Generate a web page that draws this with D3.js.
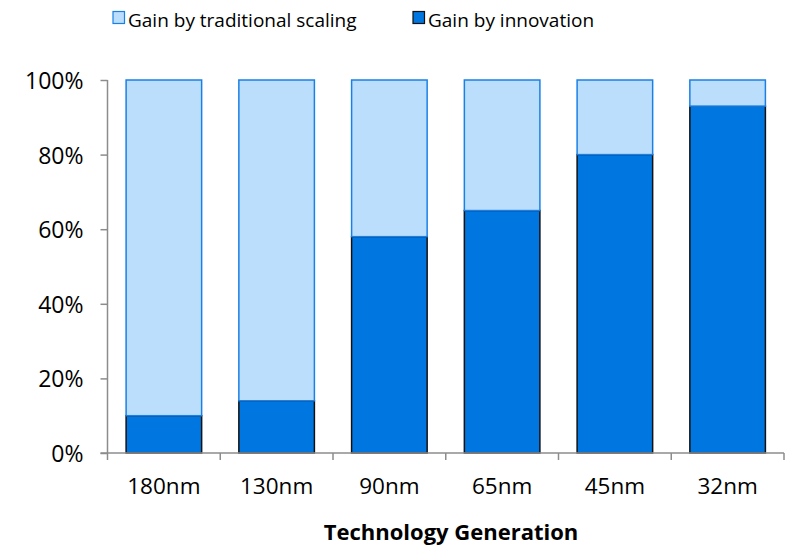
<!DOCTYPE html>
<html>
<head>
<meta charset="utf-8">
<script src="https://cdn.jsdelivr.net/npm/d3@7"></script>
<style>
  html, body { margin: 0; padding: 0; background: #fff; }
  svg { display: block; }
  text { font-family: "Open Sans", Lato, sans-serif; fill: #000; }
</style>
</head>
<body>
<svg id="chart" width="787" height="547"></svg>
<script>
// Technology generations and the share of performance gain per source (%)
const generations = ["180nm", "130nm", "90nm", "65nm", "45nm", "32nm"];
const innovation = [10, 14, 58, 65, 80, 93];
const traditional = [90, 86, 42, 35, 20, 7];
const yTicks = [0, 20, 40, 60, 80, 100];
const seriesNames = ["Gain by traditional scaling", "Gain by innovation"];

const svg = d3.select("#chart");
const margin = { left: 107.5, right: 3, top: 80, bottom: 94 };
const W = 787, H = 547;

const x = d3.scaleBand().domain(generations)
  .range([margin.left, W - margin.right]).paddingInner(0.33).paddingOuter(0.165);
const y = d3.scaleLinear().domain([0, 100]).range([H - margin.bottom, margin.top]);

const lightFill = "#bbdefc", lightStroke = "#1a80e6";
const darkFill = "#0077e0", darkStroke = "#111";

const rows = generations.map((g, i) => ({ g, inn: innovation[i], trad: traditional[i] }));

// innovation (bottom segment)
svg.append("g").selectAll("rect").data(rows).join("rect")
  .attr("x", d => x(d.g))
  .attr("width", x.bandwidth())
  .attr("y", d => y(d.inn))
  .attr("height", d => y(0) - y(d.inn))
  .attr("fill", darkFill)
  .attr("stroke", darkStroke)
  .attr("stroke-width", 1.5);

// traditional scaling (stacked on top)
svg.append("g").selectAll("rect").data(rows).join("rect")
  .attr("x", d => x(d.g))
  .attr("width", x.bandwidth())
  .attr("y", d => y(d.inn + d.trad))
  .attr("height", d => y(d.inn) - y(d.inn + d.trad))
  .attr("fill", lightFill)
  .attr("stroke", lightStroke)
  .attr("stroke-width", 1.5);

// y axis
const yAxis = svg.append("g").attr("transform", `translate(${margin.left},0)`)
  .call(d3.axisLeft(y).tickValues(yTicks).tickFormat(d => d + "%").tickSize(7).tickPadding(17));
yAxis.selectAll("text").style("font-size", "23px").attr("dy", "0.37em");

// x axis with ticks at category boundaries
const step = x.step();
const boundaries = d3.range(generations.length + 1).map(i => margin.left + i * step);
const xAxisG = svg.append("g");
xAxisG.append("line")
  .attr("x1", margin.left - 7).attr("x2", boundaries[boundaries.length - 1])
  .attr("y1", y(0)).attr("y2", y(0));
xAxisG.selectAll("line.tk").data(boundaries).join("line").attr("class", "tk")
  .attr("x1", d => d).attr("x2", d => d)
  .attr("y1", y(0)).attr("y2", y(0) + 7);
xAxisG.selectAll("text").data(generations).join("text")
  .attr("x", d => x(d) + x.bandwidth() / 2)
  .attr("y", y(0) + 41)
  .attr("text-anchor", "middle")
  .style("font-size", "22.5px")
  .text(d => d);

svg.selectAll(".domain, .tick line, g line").attr("stroke", "#8c8c8c").attr("stroke-width", 1.5);
yAxis.select(".domain").attr("d", `M0,${y(100)}V${y(0)}`);

// axis title
svg.append("text")
  .attr("x", 451).attr("y", 540)
  .attr("text-anchor", "middle")
  .style("font-size", "22px").style("font-weight", "bold")
  .text("Technology Generation");

// legend
const legend = [
  { name: seriesNames[0], fill: lightFill, stroke: lightStroke, x: 113 },
  { name: seriesNames[1], fill: darkFill, stroke: darkStroke, x: 413 }
];
const lg = svg.append("g").selectAll("g").data(legend).join("g")
  .attr("transform", d => `translate(${d.x},11.5)`);
lg.append("rect").attr("width", 11.5).attr("height", 12)
  .attr("fill", d => d.fill).attr("stroke", d => d.stroke).attr("stroke-width", 1.2);
lg.append("text").attr("x", 15).attr("y", 15)
  .style("font-size", "19px").text(d => d.name);
</script>
</body>
</html>
